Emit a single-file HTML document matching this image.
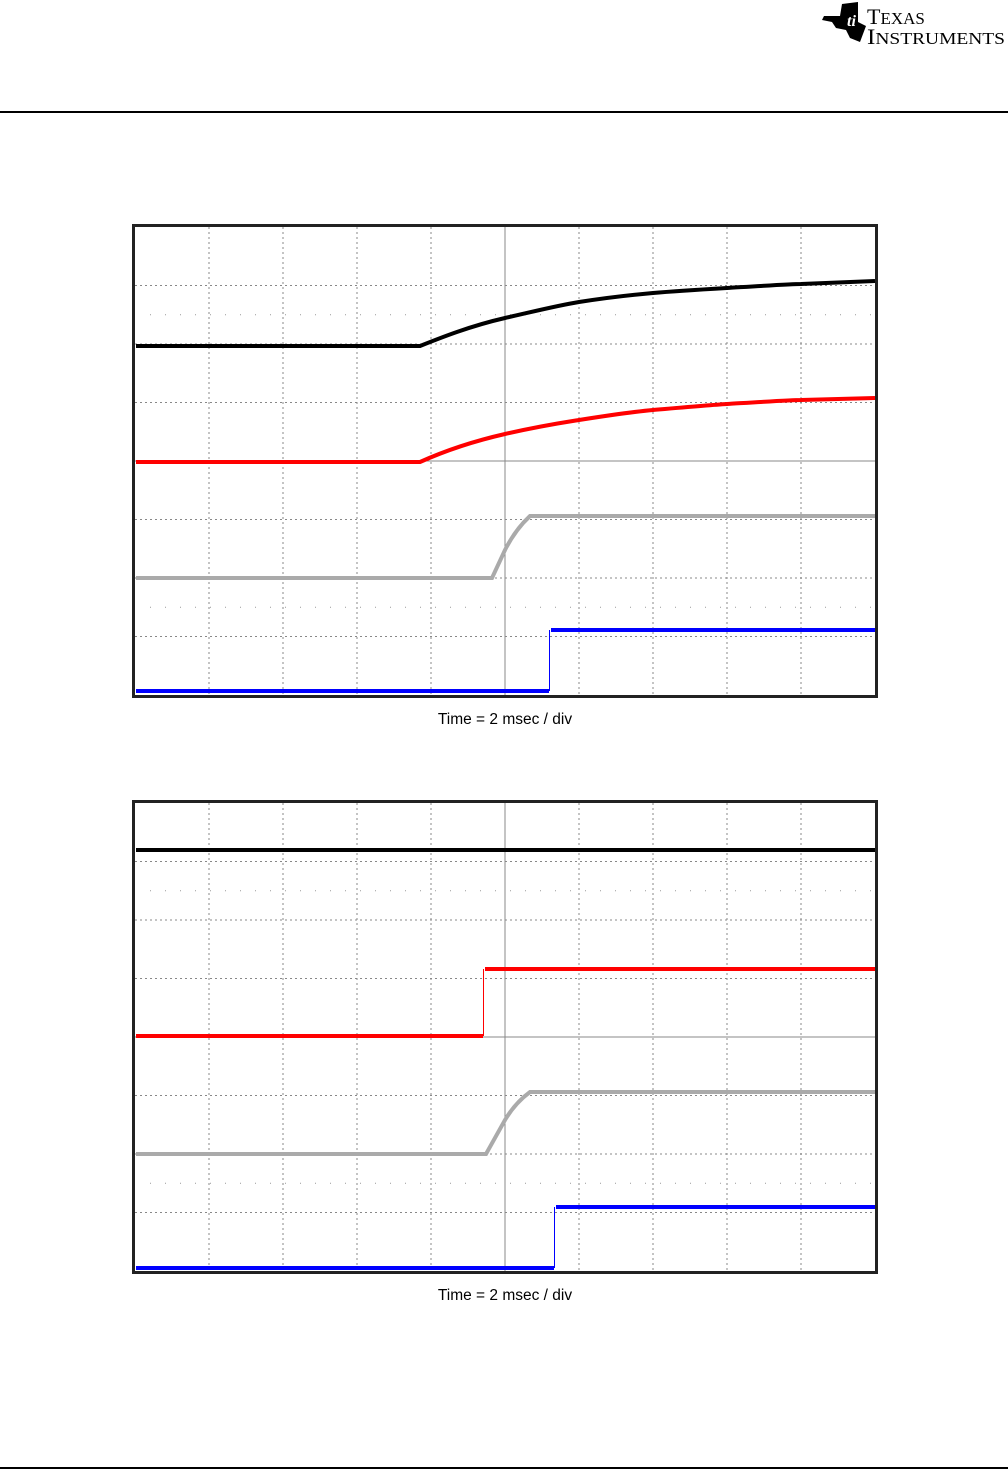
<!DOCTYPE html>
<html><head><style>
body{margin:0;background:#fff;width:1008px;height:1472px;overflow:hidden;font-family:"Liberation Sans",sans-serif}
</style></head><body>
<svg width="1008" height="1472" xmlns="http://www.w3.org/2000/svg" style="position:absolute;left:0;top:0">
<g transform="translate(820,0)">
<path d="M4 16 L20 16 L22 4 L38 2 L38 22 L46 26 L40 42 L30 38 L26 30 L16 28 L12 22 L2 20 Z" fill="#000"/>
<text x="27" y="26" font-size="16" font-style="italic" font-weight="bold" fill="#fff" font-family="Liberation Serif,serif">ti</text>
</g>
<text x="867" y="24" font-family="Liberation Serif,serif" font-size="22" fill="#000">T<tspan font-size="17">EXAS</tspan></text>
<text x="867" y="44" font-family="Liberation Serif,serif" font-size="22" fill="#000" textLength="138" lengthAdjust="spacingAndGlyphs">I<tspan font-size="17">NSTRUMENTS</tspan></text>
<rect x="0" y="111" width="1008" height="2" fill="#000"/>
<rect x="0" y="1467" width="1008" height="2" fill="#000"/>

<defs>
<g id="grid">
<g stroke="#888" stroke-width="1" stroke-dasharray="2,3">
<line x1="209" y1="0" x2="209" y2="468"/><line x1="283" y1="0" x2="283" y2="468"/><line x1="357" y1="0" x2="357" y2="468"/><line x1="431" y1="0" x2="431" y2="468"/>
<line x1="579" y1="0" x2="579" y2="468"/><line x1="653" y1="0" x2="653" y2="468"/><line x1="727" y1="0" x2="727" y2="468"/><line x1="801" y1="0" x2="801" y2="468"/>
<line x1="135" y1="58.5" x2="875" y2="58.5"/><line x1="135" y1="117" x2="875" y2="117"/><line x1="135" y1="175.5" x2="875" y2="175.5"/>
<line x1="135" y1="292.5" x2="875" y2="292.5"/><line x1="135" y1="351" x2="875" y2="351"/><line x1="135" y1="409.5" x2="875" y2="409.5"/>
</g>
<g stroke="#999" stroke-width="1" stroke-dasharray="1,14">
<line x1="150" y1="87.75" x2="875" y2="87.75"/><line x1="150" y1="380.25" x2="875" y2="380.25"/>
</g>
<g stroke="#888" stroke-width="1">
<line x1="505" y1="0" x2="505" y2="468"/><line x1="135" y1="234" x2="875" y2="234"/>
</g>
<g stroke="#888" stroke-width="1" stroke-dasharray="1,13.8">
<line x1="501" y1="0" x2="509" y2="0" stroke-dasharray="none" opacity="0"/>
</g>
</g>
</defs>

<g transform="translate(0,227)"><use href="#grid"/></g>
<rect x="133.5" y="225.5" width="743" height="471" fill="none" stroke="#222" stroke-width="3"/>
<g fill="none" stroke-width="4">
<path d="M136 346 L420 346 C440 338 470 326 505 318 S560 305 579 302 S630 295 653 293 S710 289 727 288 S790 284 801 284 L875 281" stroke="#000"/>
<path d="M136 462 L420 462 C440 453 470 442 505 434 S560 423 579 420 S630 412 653 410 S710 405 727 404 S790 400 801 400 L875 398" stroke="#f00"/>
<path d="M136 578 L492 578 L505 550 Q515 530 530 516 L875 516" stroke="#aaa"/>
<path d="M136 691 L549 691" stroke="#00f"/>
<path d="M551 630 L875 630" stroke="#00f"/>
</g>
<line x1="549.5" y1="691" x2="549.5" y2="630" stroke="#00f" stroke-width="1"/>
<text x="505" y="724" font-size="15.5" text-anchor="middle" fill="#000">Time = 2 msec / div</text>

<g transform="translate(0,803)"><use href="#grid"/></g>
<rect x="133.5" y="801.5" width="743" height="471" fill="none" stroke="#222" stroke-width="3"/>
<g fill="none" stroke-width="4">
<path d="M136 850 L875 850" stroke="#000"/>
<path d="M136 1036 L483 1036" stroke="#f00"/>
<path d="M485 969 L875 969" stroke="#f00"/>
<path d="M136 1154 L486 1154 L505 1120 Q515 1103 530 1092 L875 1092" stroke="#aaa"/>
<path d="M136 1268 L554 1268" stroke="#00f"/>
<path d="M556 1207 L875 1207" stroke="#00f"/>
</g>
<line x1="483.5" y1="1036" x2="483.5" y2="969" stroke="#f00" stroke-width="1"/>
<line x1="554.5" y1="1268" x2="554.5" y2="1207" stroke="#00f" stroke-width="1"/>
<text x="505" y="1300" font-size="15.5" text-anchor="middle" fill="#000">Time = 2 msec / div</text>
</svg>
</body></html>
